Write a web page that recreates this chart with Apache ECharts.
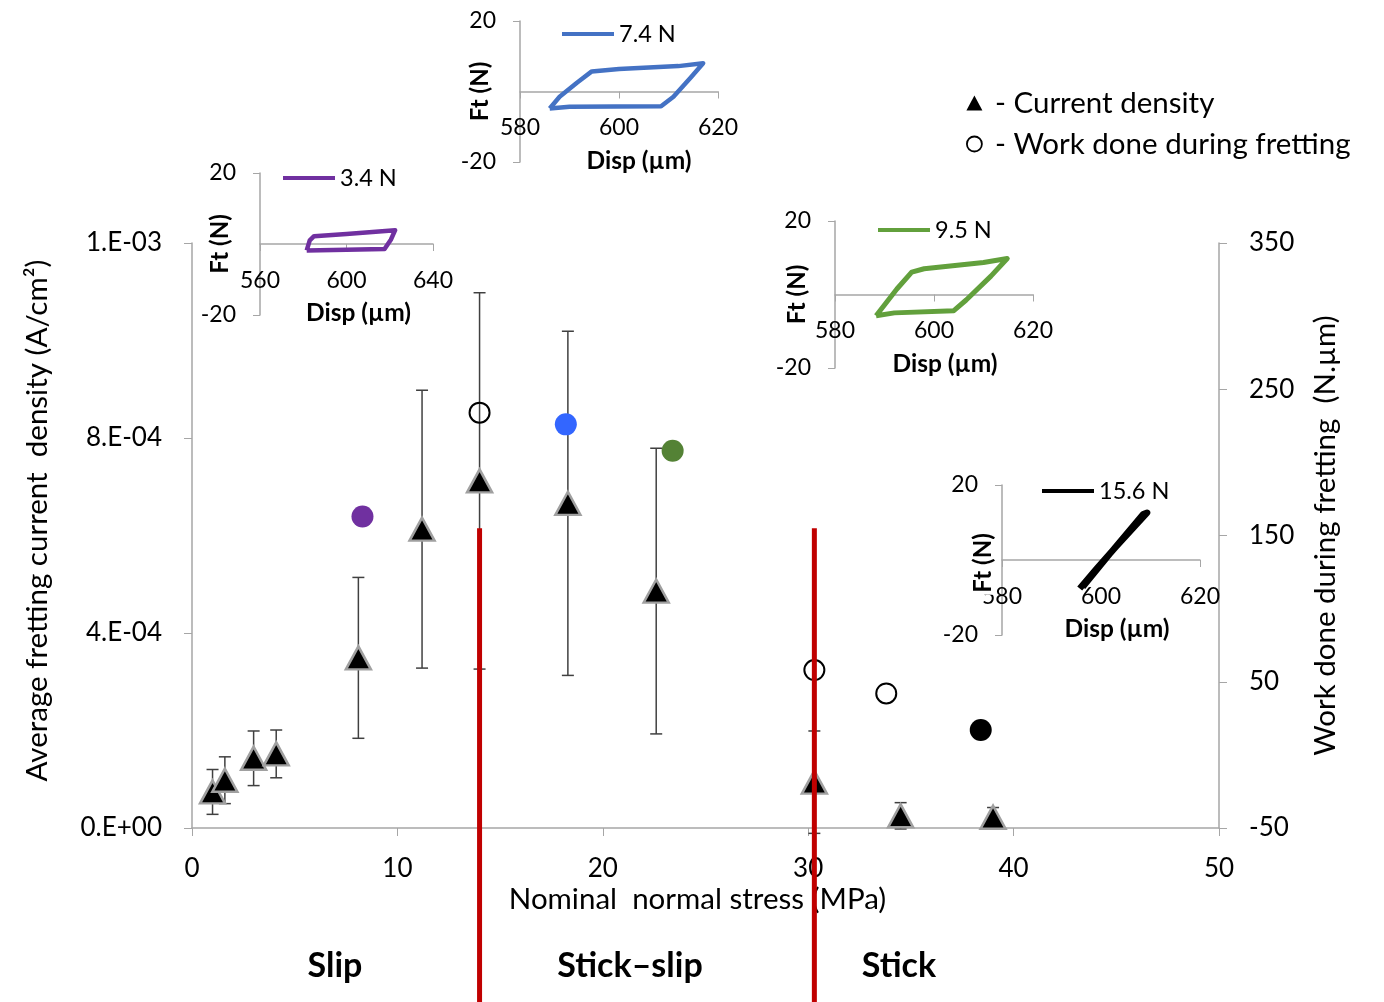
<!DOCTYPE html>
<html>
<head>
<meta charset="utf-8">
<script src="https://cdn.jsdelivr.net/npm/echarts@6/dist/echarts.min.js"></script>
<style>
  html, body { margin: 0; padding: 0; background: #fff; }
  #chart { width: 1384px; height: 1002px; }
</style>
</head>
<body>
<div id="chart"></div>
<script>
// main plot: current density (left axis) with error bars
const stress = [1.0, 1.6, 3.0, 4.1, 8.1, 11.2, 14.0, 18.3, 22.6, 30.3, 34.5, 39.0]
const currentDensity = [7.4e-5, 9.8e-5, 1.43e-4, 1.52e-4, 3.49e-4, 6.13e-4, 7.12e-4, 6.66e-4, 4.86e-4, 9.4e-5, 2.5e-5, 2.2e-5]
const currentErr = [4.6e-5, 4.8e-5, 5.6e-5, 4.9e-5, 1.65e-4, 2.85e-4, 3.86e-4, 3.53e-4, 2.93e-4, 1.05e-4, 2.7e-5, 2.0e-5]

// work done during fretting (right axis)
const workStress = [8.3, 14.0, 18.2, 23.4, 30.3, 33.8, 38.4]
const workDone = [163, 234, 226, 208, 58, 42, 17]
const workColors = ['#7030A0', null, '#3366FF', '#548235', null, null, '#000000']

// regime boundaries (red lines) and the height they start at
const regimeBounds = [14.0, 30.3]
const boundTop = 6.15e-4
const regimeNames = ['Slip', 'Stick–slip', 'Stick']

// inset hysteresis loops, [Disp (µm), Ft (N)]
const loop34 = [[581.6, -1.8], [583, 1], [585, 2.2], [600, 2.8], [622.5, 3.9], [620.5, 1.2], [617.6, -1.4], [600, -1.6], [581.6, -1.8]]
const loop74 = [[586, -4.8], [590, -4.3], [608.5, -4.2], [611, -1.5], [614.5, 4], [617, 8], [612, 7.2], [600, 6.4], [594.5, 5.7], [591.5, 2.5], [588, -1.5], [586, -4.8]]
const loop95 = [[588.3, -5.8], [592, -5], [604, -4.4], [606.5, -1.5], [611.5, 5], [614.8, 9.8], [610, 8.7], [598, 7], [595.5, 6.1], [592.5, 1.5], [588.3, -5.8]]
const loop156 = [[595.7, -7.6], [599, -2.5], [603, 3.5], [609.3, 12.6], [608.5, 12.2], [602, 2], [596.3, -7.2]]

const FONT = 'Lato, "Noto Sans", sans-serif'
const AXIS_GREY = '#A6A6A6'

const insetGrids = [
  { left: 260, top: 173, width: 173, height: 142 },
  { left: 520, top: 21, width: 198, height: 141 },
  { left: 835, top: 221, width: 198, height: 147 },
  { left: 1002, top: 485, width: 198, height: 150 }
]

function sci(v) {
  if (Math.abs(v) < 1e-12) return '0.E+00'
  const e = Math.floor(Math.log10(Math.abs(v)) + 1e-9)
  const m = Math.round(v / Math.pow(10, e))
  return m + '.E' + (e < 0 ? '-' : '+') + String(Math.abs(e)).padStart(2, '0')
}

// x axis of an inset, shifted up so it runs through Ft = 0
function insetX(gridIndex, min, max, interval, shift) {
  return {
    type: 'value', gridIndex, min, max, interval,
    offset: -insetGrids[gridIndex - 1].height / 2,
    name: 'Disp (µm)', nameLocation: 'middle', nameGap: 57, nameMoveOverlap: false,
    nameTextStyle: { fontFamily: FONT, fontSize: 24.5, fontWeight: 'bold', color: '#000', padding: [0, 0, 0, shift] },
    axisLine: { onZero: false, lineStyle: { color: AXIS_GREY, width: 1.5 } },
    axisTick: { show: true, length: 7, lineStyle: { color: AXIS_GREY } },
    axisLabel: { margin: 25, fontFamily: FONT, fontSize: 23, color: '#000', showMinLabel: true, showMaxLabel: true },
    splitLine: { show: false }
  }
}

function insetY(gridIndex, gap, title) {
  return {
    type: 'value', gridIndex, min: -20, max: 20, interval: 40,
    name: title, nameLocation: 'middle', nameGap: gap, nameRotate: 90, nameMoveOverlap: false,
    nameTextStyle: { fontFamily: FONT, fontSize: 24, fontWeight: 'bold', color: '#000' },
    axisLine: { show: true, onZero: false, lineStyle: { color: AXIS_GREY, width: 1.5 } },
    axisTick: { show: true, length: 7, lineStyle: { color: AXIS_GREY } },
    axisLabel: { margin: 24, fontFamily: FONT, fontSize: 23, color: '#000' },
    splitLine: { show: false }
  }
}

function insetLegend(name, left, top) {
  return {
    data: [{ name, icon: 'rect' }], left, top, padding: 0, itemWidth: 52, itemHeight: 4, itemGap: 0,
    textStyle: { fontFamily: FONT, fontSize: 23.5, color: '#000' }
  }
}

function loopSeries(name, data, color, xi, yi, width) {
  return {
    name, type: 'line', xAxisIndex: xi, yAxisIndex: yi, data,
    symbol: 'none', smooth: false, lineStyle: { color, width, join: 'round' },
    itemStyle: { color }, z: 5
  }
}

function regimeText(i, x) {
  return {
    type: 'text', x, y: 966, z: 100,
    style: { text: regimeNames[i], font: 'bold 34px ' + FONT, fill: '#000', align: 'center', verticalAlign: 'middle' }
  }
}

const chart = echarts.init(document.getElementById('chart'), null, { renderer: 'canvas' })

const option = {
  backgroundColor: '#fff',
  animation: false,
  textStyle: { fontFamily: FONT },
  grid: [{ left: 192, top: 243, width: 1027, height: 585 }].concat(insetGrids),
  legend: [
    {
      data: [
        { name: 'Current density', itemStyle: { borderWidth: 0, color: '#000' } },
        { name: 'Work done during fretting', itemStyle: { borderWidth: 1.8 } }
      ],
      orient: 'vertical', left: 966, top: 88, padding: 0,
      itemWidth: 16, itemHeight: 15, itemGap: 11,
      formatter: (name) => ' - ' + name,
      textStyle: { fontFamily: FONT, fontSize: 29.5, color: '#000' }
    },
    insetLegend('3.4 N', 283, 166),
    insetLegend('7.4 N', 562, 22),
    insetLegend('9.5 N', 878, 218),
    insetLegend('15.6 N', 1042, 479)
  ],
  xAxis: [
    {
      type: 'value', gridIndex: 0, min: 0, max: 50, interval: 10,
      name: 'Nominal  normal stress (MPa)', nameLocation: 'middle', nameGap: 56, nameMoveOverlap: false,
      nameTextStyle: { fontFamily: FONT, fontSize: 29.5, color: '#000', padding: [0, 16, 0, 0] },
      axisLine: { onZero: false, lineStyle: { color: AXIS_GREY, width: 1.5 } },
      axisTick: { length: 8, lineStyle: { color: AXIS_GREY } },
      axisLabel: { margin: 28, fontFamily: FONT, fontSize: 26, color: '#000' },
      splitLine: { show: false }
    },
    insetX(1, 560, 640, 40, 24),
    insetX(2, 580, 620, 20, 40),
    insetX(3, 580, 620, 20, 22),
    insetX(4, 580, 620, 20, 32)
  ],
  yAxis: [
    {
      type: 'value', gridIndex: 0, min: 0, max: 0.0012, interval: 0.0004,
      name: 'Average fretting current  density (A/cm²)', nameLocation: 'middle', nameGap: 140, nameMoveOverlap: false,
      nameTextStyle: { fontFamily: FONT, fontSize: 29.5, color: '#000', padding: [0, 0, 0, 30] },
      axisLine: { show: true, onZero: false, lineStyle: { color: AXIS_GREY, width: 1.5 } },
      axisTick: { show: true, length: 8, lineStyle: { color: AXIS_GREY } },
      axisLabel: { margin: 30, fontFamily: FONT, fontSize: 26, color: '#000', formatter: sci },
      splitLine: { show: false }
    },
    {
      type: 'value', gridIndex: 0, position: 'right', min: -50, max: 350, interval: 100,
      name: 'Work done during fretting  (N.µm)', nameLocation: 'middle', nameGap: 91, nameMoveOverlap: false,
      nameTextStyle: { fontFamily: FONT, fontSize: 29.5, color: '#000' },
      axisLine: { show: true, onZero: false, lineStyle: { color: AXIS_GREY, width: 1.5 } },
      axisTick: { show: true, length: 8, lineStyle: { color: AXIS_GREY } },
      axisLabel: { margin: 30, fontFamily: FONT, fontSize: 26, color: '#000' },
      splitLine: { show: false }
    },
    insetY(1, 28, 'Ft (N)'),
    insetY(2, 28, 'Ft (N)'),
    insetY(3, 26, 'Ft (N)'),
    // the last inset's title sits over its first tick label, drawn as a graphic below
    insetY(4, 8, '')
  ],
  series: [
    {
      name: 'errors', type: 'custom', xAxisIndex: 0, yAxisIndex: 0, z: 2,
      data: stress.map((s, i) => [s, currentDensity[i], currentErr[i]]),
      renderItem(params, api) {
        const x = api.value(0), y = api.value(1), e = api.value(2)
        const top = api.coord([x, y + e])
        const bot = api.coord([x, y - e])
        const hw = 6
        const style = { stroke: '#404040', lineWidth: 1.5 }
        return {
          type: 'group',
          children: [
            { type: 'line', shape: { x1: top[0], y1: top[1], x2: bot[0], y2: bot[1] }, style },
            { type: 'line', shape: { x1: top[0] - hw, y1: top[1], x2: top[0] + hw, y2: top[1] }, style },
            { type: 'line', shape: { x1: bot[0] - hw, y1: bot[1], x2: bot[0] + hw, y2: bot[1] }, style }
          ]
        }
      }
    },
    {
      name: 'Current density', type: 'scatter', xAxisIndex: 0, yAxisIndex: 0, z: 3,
      symbol: 'triangle', symbolSize: [25, 23],
      itemStyle: { color: '#000', borderColor: '#A0A0A0', borderWidth: 2.5, opacity: 1 },
      data: stress.map((s, i) => [s, currentDensity[i]])
    },
    {
      name: 'Work done during fretting', type: 'scatter', xAxisIndex: 0, yAxisIndex: 1, z: 4,
      symbol: 'circle', symbolSize: 20,
      itemStyle: { color: 'rgba(0,0,0,0)', borderColor: '#000', borderWidth: 2, opacity: 1 },
      data: workStress.map((s, i) => {
        const c = workColors[i]
        return c
          ? { value: [s, workDone[i]], symbolSize: 22, itemStyle: { color: c, borderWidth: 0 } }
          : { value: [s, workDone[i]] }
      })
    },
    {
      name: 'bounds', type: 'custom', xAxisIndex: 0, yAxisIndex: 0, z: 10, clip: false,
      data: regimeBounds.map((b) => [b, boundTop]),
      renderItem(params, api) {
        const p = api.coord([api.value(0), api.value(1)])
        return {
          type: 'line',
          shape: { x1: p[0], y1: p[1], x2: p[0], y2: api.getHeight() },
          style: { stroke: '#C00000', lineWidth: 5 }
        }
      }
    },
    loopSeries('3.4 N', loop34, '#7030A0', 1, 2, 4.5),
    loopSeries('7.4 N', loop74, '#4472C4', 2, 3, 4.5),
    loopSeries('9.5 N', loop95, '#62A03C', 3, 4, 5),
    loopSeries('15.6 N', loop156, '#000000', 4, 5, 6.5)
  ],
  graphic: [
    regimeText(0, 335),
    regimeText(1, 630),
    regimeText(2, 899),
    {
      type: 'text', x: 983, y: 563, rotation: Math.PI / 2, z: 100,
      style: {
        text: 'Ft (N)', font: 'bold 24px ' + FONT, fill: '#000',
        align: 'center', verticalAlign: 'middle', backgroundColor: '#fff', padding: [0, 2, 0, 2]
      }
    }
  ]
}

chart.setOption(option)
</script>
</body>
</html>
